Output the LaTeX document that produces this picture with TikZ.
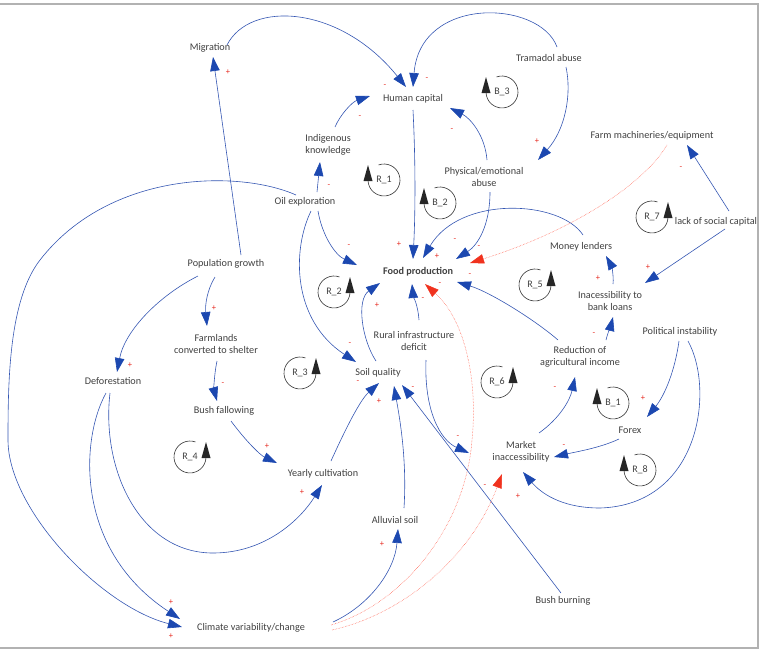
\documentclass[tikz,border=0pt]{standalone}
\usepackage{fontspec}
\setmainfont{Carlito}
\usetikzlibrary{arrows.meta,calc}
\definecolor{lblue}{RGB}{52,86,178}
\definecolor{ablue}{RGB}{28,72,176}
\definecolor{lred}{RGB}{255,80,60}
\definecolor{ared}{RGB}{240,50,30}
\definecolor{txtc}{RGB}{64,64,64}
\definecolor{sgnc}{RGB}{230,40,30}
\newcommand\lpmarkL[4]{%
  \node[lpl] (#1) at (#2,#3) {#4};
  \begin{scope}[shift={(#2,#3)},yscale=-1]
    \draw[lpc] (110:16) arc[start angle=110,end angle=-180,radius=16];
    \fill[lpf] (-20.5,-1) -- (-11.5,-1) -- (-16,15) -- cycle;
  \end{scope}}
\newcommand\lpmarkR[4]{%
  \node[lpl] (#1) at (#2,#3) {#4};
  \begin{scope}[shift={(#2,#3)},yscale=-1]
    \draw[lpc] (70:16) arc[start angle=70,end angle=360,radius=16];
    \fill[lpf] (11.5,-1) -- (20.5,-1) -- (16,15) -- cycle;
  \end{scope}}
\begin{document}
\begin{tikzpicture}[x=1pt,y=-1pt,
  txt/.style={text=txtc,font=\fontsize{10.2}{12.5}\selectfont,align=center,inner sep=0pt},
  bld/.style={txt,font=\fontsize{10.2}{12.5}\selectfont\bfseries},
  lpl/.style={text=txtc,font=\fontsize{10}{12}\selectfont,inner sep=0pt},
  lpc/.style={draw=black!80,line width=0.6pt},
  lpf/.style={fill=black!85},
  sgn/.style={text=sgnc,font=\fontsize{8.5}{9}\selectfont,inner sep=0pt},
  lnk/.style={draw=lblue,line width=0.6pt,-{Triangle[length=14pt,width=9.5pt,color=ablue]}},
  rlnk/.style={draw=lred,line width=0.5pt,densely dotted,-{Triangle[length=14pt,width=9.5pt,color=ared]}}]
\useasboundingbox (0,0) rectangle (760,654);
\draw[black!30,line width=1.2pt] (-3,4) rectangle (758,648);

% nodes
\node[txt] (mig) at (210,48) {Migration};
\node[txt] (hc) at (413,99) {Human capital};
\node[txt] (tram) at (549,58) {Tramadol abuse};
\node[txt] (ik) at (328,145) {Indigenous\\knowledge};
\node[txt] (farm) at (652,136) {Farm machineries/equipment};
\node[txt] (pea) at (484,177) {Physical/emotional\\abuse};
\node[txt] (oil) at (305,202) {Oil exploration};
\node[txt] (lsc) at (716,222) {lack of social capital};
\node[txt] (ml) at (581,247) {Money lenders};
\node[txt] (pg) at (226,264) {Population growth};
\node[bld] (fp) at (418,272) {Food production};
\node[txt] (ibl) at (610,301) {Inacessibility to\\bank loans};
\node[txt] (pi) at (680,332) {Political instability};
\node[txt] (fcs) at (216,344) {Farmlands\\converted to shelter};
\node[txt] (rid) at (414,341) {Rural infrastructure\\deficit};
\node[txt] (rai) at (580,357) {Reduction of\\agricultural income};
\node[txt] (sq) at (378,373) {Soil quality};
\node[txt] (def) at (113,381) {Deforestation};
\node[txt] (bf) at (224,411) {Bush fallowing};
\node[txt] (fx) at (630,430) {Forex};
\node[txt] (mi) at (521,452) {Market\\inaccessibility};
\node[txt] (yc) at (323,474) {Yearly cultivation};
\node[txt] (as) at (395,520) {Alluvial soil};
\node[txt] (bb) at (563,601) {Bush burning};
\node[txt] (cvc) at (251,628) {Climate variability/change};

% loop markers
\lpmarkL{b3}{502}{92}{B\_3}
\lpmarkL{r1}{384}{180}{R\_1}
\lpmarkL{b2}{440}{203}{B\_2}
\lpmarkR{r7}{652}{217}{R\_7}
\lpmarkR{r2}{334}{292}{R\_2}
\lpmarkR{r5}{535}{285}{R\_5}
\lpmarkR{r3}{300}{373}{R\_3}
\lpmarkR{r6}{497}{382}{R\_6}
\lpmarkL{b1}{613}{403}{B\_1}
\lpmarkR{r4}{190}{457}{R\_4}
\lpmarkL{r8}{640}{470}{R\_8}

% connectors
\draw[lnk] ($(pg)+(15,-9)$) -- ($(mig)+(3,9)$);
\draw[lnk] ($(mig)+(17,-3)$) .. controls (250,0) and (340,5) .. ($(hc)+(-7,-12)$);
\draw[lnk] ($(tram)+(8,-11)$) .. controls (540,0) and (420,-5) .. ($(hc)+(0,-12)$);
\draw[lnk] ($(tram)+(17,9)$) .. controls (572,95) and (565,130) .. ($(pea)+(54,-17)$);
\draw[lnk] ($(pea)+(3,-17)$) .. controls (485,135) and (470,118) .. ($(hc)+(37,9)$);
\draw[lnk] ($(pea)+(6,15)$) .. controls (490,225) and (478,245) .. ($(fp)+(38,-13)$);
\draw[lnk] ($(hc)+(0,11)$) .. controls (416,170) and (415,220) .. ($(fp)+(-5,-13)$);
\draw[lnk] ($(ik)+(7,-18)$) .. controls (340,115) and (352,102) .. ($(hc)+(-43,-3)$);
\draw[lnk] ($(oil)+(12,-10)$) -- ($(ik)+(-8,17)$);
\draw[lnk] ($(oil)+(13,9)$) .. controls (322,235) and (335,255) .. ($(fp)+(-61,-7)$);
\draw[lnk] ($(oil)+(6,9)$) .. controls (292,250) and (292,320) .. ($(sq)+(-22,-11)$);
\draw[lnk] ($(oil)+(-9,-7)$) .. controls (240,170) and (110,170) .. (40,260)
  .. controls (9,300) and (8,380) .. (8,440)
  .. controls (8,510) and (102,607) .. ($(cvc)+(-69,-1)$);
\draw[lnk] ($(def)+(-7,12)$) .. controls (80,440) and (75,550) .. ($(cvc)+(-71,-9)$);
\draw[lnk] ($(def)+(-3,12)$) .. controls (101,470) and (140,553) .. (213,553)
  .. controls (265,553) and (300,520) .. ($(yc)+(-1,11)$);
\draw[lnk] ($(pg)+(-28,12)$) .. controls (160,295) and (125,330) .. ($(def)+(4,-9)$);
\draw[lnk] ($(pg)+(-11,13)$) .. controls (207,290) and (205,305) .. ($(fcs)+(-9,-18)$);
\draw[lnk] ($(fcs)+(1,17)$) .. controls (214,375) and (214,390) .. ($(bf)+(-7,-10)$);
\draw[lnk] ($(bf)+(7,10)$) .. controls (245,440) and (260,455) .. ($(yc)+(-46,-11)$);
\draw[lnk] ($(yc)+(8,-13)$) .. controls (345,430) and (360,400) .. ($(sq)+(1,10)$);
\draw[lnk] ($(as)+(9,-12)$) .. controls (407,460) and (400,420) .. ($(sq)+(16,13)$);
\draw[lnk] ($(bb)+(-2,-8)$) -- ($(sq)+(24,12)$);
\draw[lnk] ($(cvc)+(82,-6)$) .. controls (370,605) and (395,570) .. ($(as)+(3,9)$);
\draw[rlnk] ($(cvc)+(80,-3)$) .. controls (400,605) and (465,530) .. (472,440)
  .. controls (478,380) and (465,320) .. ($(fp)+(7,12)$);
\draw[rlnk] ($(cvc)+(81,2)$) .. controls (400,615) and (470,560) .. ($(mi)+(-19,22)$);
\draw[lnk] ($(rid)+(5,-21)$) .. controls (418,305) and (413,295) .. ($(fp)+(-6,12)$);
\draw[lnk] ($(rid)+(12,19)$) .. controls (424,410) and (440,440) .. ($(mi)+(-52,1)$);
\draw[lnk] ($(sq)+(-2,-12)$) .. controls (362,340) and (356,300) .. ($(fp)+(-38,11)$);
\draw[lnk] ($(ibl)+(3,-17)$) .. controls (614,275) and (611,265) .. ($(ml)+(25,9)$);
\draw[lnk] ($(ml)+(2,-12)$) .. controls (560,200) and (460,195) .. ($(fp)+(5,-14)$);
\draw[rlnk] ($(farm)+(15,9)$) .. controls (640,190) and (560,235) .. ($(fp)+(52,-9)$);
\draw[lnk] ($(lsc)+(13,-11)$) -- ($(farm)+(35,9)$);
\draw[lnk] ($(lsc)+(9,7)$) -- ($(ibl)+(35,-18)$);
\draw[lnk] ($(rai)+(-22,-17)$) .. controls (535,320) and (490,292) .. ($(fp)+(39,10)$);
\draw[lnk] ($(rai)+(26,-17)$) .. controls (608,332) and (611,325) .. ($(ibl)+(3,16)$);
\draw[lnk] ($(mi)+(18,-19)$) .. controls (560,418) and (570,400) .. ($(rai)+(-5,20)$);
\draw[lnk] ($(fx)+(-11,9)$) .. controls (600,448) and (575,452) .. ($(mi)+(33,5)$);
\draw[lnk] ($(pi)+(-1,9)$) .. controls (675,370) and (665,395) .. ($(fx)+(17,-13)$);
\draw[lnk] ($(pi)+(8,9)$) .. controls (715,390) and (700,505) .. (600,508)
  .. controls (560,508) and (540,492) .. ($(mi)+(2,20)$);

% polarity signs
\foreach \x/\y/\s [count=\i] in {228/72/+,385/86/-,427/79/-,360/117/-,452/130/-,537/141/+,
  329/186/-,681/168/-,349/246/-,399/244/+,455/240/-,479/247/-,437/256/+,470/275/-,
  440/284/-,423/299/-,377/305/+,350/344/-,358/382/-,379/401/+,413/388/-,214/308/+,
  130/365/+,223/384/-,267/446/+,302/492/+,171/602/+,171/636/+,382/544/+,598/278/+,
  648/267/+,594/334/-,555/388/-,643/398/+,564/446/-,458/437/-,485/486/-,518/496/+}
  {\node[sgn] (sg\i) at (\x,\y) {\s};}
\end{tikzpicture}
\end{document}
